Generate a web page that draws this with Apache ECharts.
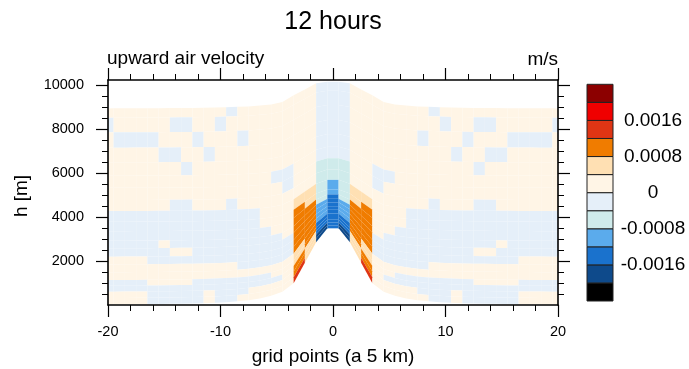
<!DOCTYPE html>
<html><head><meta charset="utf-8">
<script src="https://cdn.jsdelivr.net/npm/echarts@6/dist/echarts.min.js"></script>
<style>html,body{margin:0;padding:0;background:#fff}#c{width:689px;height:369px}</style>
</head><body><div id="c"></div>
<script>
// ---- data ----
const xCenters = [-20,-19,-18,-17,-16,-15,-14,-13,-12,-11,-10,-9,-8,-7,-6,-5,-4,-3,-2,-1,0,1,2,3,4,5,6,7,8,9,10,11,12,13,14,15,16,17,18,19,20];
// terrain height [m] at the cell edges x = -20.5 ... 20.5
const terrainEdges = [0,1,3,6,11,17,24,32,42,55,72,98,135,190,270,390,570,960,1890,2820,3456,
                      3456,2820,1890,960,570,390,270,190,135,98,72,55,42,32,24,17,11,6,3,1,0];
// smoothed terrain felt by the upper levels [m] at the same edges
const smoothTerrainEdges = [0,3,8,14,21,29,38,48,65,85,110,150,200,260,370,520,830,1700,2460,3260,3456,
                            3456,3260,2460,1700,830,520,370,260,200,150,110,85,65,48,38,29,21,14,8,3,0];
// model level interfaces far from the mountain [m] and their terrain-following factor
const levelHeights = [30,320,606,875,1136,1490,1845,2197,2576,2924,3356,3788,4273,4773,5326,5879,6485,7152,7848,8515,8939];
const levelDecay   = [1.0,0.955,0.911,0.869,0.829,0.774,0.719,0.664,0.605,0.551,0.484,0.425,0.41,0.40,0.39,0.38,0.372,0.365,0.36,0.355,0.35];
// upward air velocity, units of 1e-4 m/s, rows listed from top level (19) down to level 0
const wScale = 1e-4;
const wRowsTopDown = [
 [2,2,2,2,2,2,2,2,2,2,2,-2,2,2,2,2,2,2,2,-2, -2, -2,2,2,2,2,2,2,2,-2,2,2,2,2,2,2,2,2,2,2,2],
 [-2,2,2,2,2,2,-2,-2,2,2,-2,2,2,2,2,2,2,2,2,-2, -2, -2,2,2,2,2,2,2,2,2,-2,2,2,-2,-2,2,2,2,2,2,-2],
 [2,-2,-2,-2,-2,2,2,2,-2,2,2,2,-2,2,2,2,2,2,2,-2, -2, -2,2,2,2,2,2,2,-2,2,2,2,-2,2,2,2,-2,-2,-2,-2,2],
 [2,2,2,2,2,-2,-2,2,2,-2,2,2,2,2,2,2,2,2,2,-2, -2, -2,2,2,2,2,2,2,2,2,2,-2,2,2,-2,-2,2,2,2,2,2],
 [2,2,2,2,2,2,2,-2,2,2,2,2,2,2,2,2,2,2,2,-2, -2, -2,2,2,2,2,2,2,2,2,2,2,2,-2,2,2,2,2,2,2,2],
 [2,2,2,2,2,2,2,2,2,2,2,2,2,2,2,-2,-2,2,2,-2, -2, -2,2,2,-2,-2,2,2,2,2,2,2,2,2,2,2,2,2,2,2,2],
 [2,2,2,2,2,2,2,2,2,2,2,2,2,2,2,2,-2,2,2,-6, -6, -6,2,2,-2,2,2,2,2,2,2,2,2,2,2,2,2,2,2,2,2],
 [2,2,2,2,2,2,-2,-2,2,2,2,-2,2,2,2,2,2,2,2,-6, -6, -6,2,2,2,2,2,2,2,-2,2,2,2,-2,-2,2,2,2,2,2,2],
 [-2,-2,-2,-2,-2,-2,-2,-2,-2,-2,-2,-2,-2,-2,2,2,2,6,6,-6, -10, -6,6,6,2,2,2,-2,-2,-2,-2,-2,-2,-2,-2,-2,-2,-2,-2,-2,-2],
 [-2,-2,-2,-2,-2,-2,-2,-2,-2,-2,-2,-2,-2,-2,2,2,2,10,6,-6, -10, -6,6,10,2,2,2,-2,-2,-2,-2,-2,-2,-2,-2,-2,-2,-2,-2,-2,-2],
 [-2,-2,-2,-2,-2,-2,-2,-2,-2,-2,-2,-2,-2,-2,-2,2,2,10,10,-6, -14, -6,10,10,2,2,-2,-2,-2,-2,-2,-2,-2,-2,-2,-2,-2,-2,-2,-2,-2],
 [-2,-2,-2,-2,-2,2,-2,-2,-2,-2,-2,-2,-2,-2,-2,-2,2,10,10,-10, -14, -10,10,10,2,-2,-2,-2,-2,-2,-2,-2,-2,-2,-2,2,-2,-2,-2,-2,-2],
 [-2,-2,-2,-2,-2,-2,2,2,-2,-2,-2,-2,-2,-2,-2,-2,-2,10,10,-10, -14, -10,10,10,-2,-2,-2,-2,-2,-2,-2,-2,-2,2,2,-2,-2,-2,-2,-2,-2],
 [2,2,2,2,-2,-2,-2,-2,-2,-2,-2,-2,-2,-2,-2,-2,-2,10,10,-10, -14, -10,10,10,-2,-2,-2,-2,-2,-2,-2,-2,-2,-2,-2,-2,-2,2,2,2,2],
 [2,2,2,2,2,2,2,2,2,2,2,2,-2,-2,-2,-2,-2,10,10,-10, -14, -10,10,10,-2,-2,-2,-2,-2,2,2,2,2,2,2,2,2,2,2,2,2],
 [2,2,2,2,2,2,2,2,2,2,2,2,2,2,2,2,2,6,10,-14, -14, -14,10,6,2,2,2,2,2,2,2,2,2,2,2,2,2,2,2,2,2],
 [-2,-2,-2,-2,2,2,2,2,-2,-2,-2,-2,-2,-2,-2,2,2,6,10,-14, -14, -14,10,6,2,2,-2,-2,-2,-2,-2,-2,-2,2,2,2,2,-2,-2,-2,-2],
 [-2,-2,-2,-2,-2,-2,-2,-2,-2,-2,-2,-2,-2,-2,-2,-2,2,10,6,-14, -14, -14,6,10,2,-2,-2,-2,-2,-2,-2,-2,-2,-2,-2,-2,-2,-2,-2,-2,-2],
 [2,2,2,2,-2,-2,-2,-2,-2,2,-2,-2,-2,2,2,2,2,10,6,-18, -14, -18,6,10,2,2,2,2,-2,-2,-2,2,-2,-2,-2,-2,-2,2,2,2,2],
 [2,2,2,2,-2,-2,-2,-2,-2,2,-2,-2,2,2,2,2,2,14,6,-18, -14, -18,6,14,2,2,2,2,2,-2,-2,2,-2,-2,-2,-2,-2,2,2,2,2]
];
// contour levels [m/s] and fill colours (bottom to top of the colour bar)
const levels = [-0.0024,-0.002,-0.0016,-0.0012,-0.0008,-0.0004,0,0.0004,0.0008,0.0012,0.0016,0.002,0.0024];
const colors = ['#000000','#0E4A8B','#1A72CD','#5BABEC','#CFEBEB','#E5EFF9','#FFF5E6','#FFE0B3','#F07C00','#DF3514','#F00000','#8C0000'];
const cbLabels = [-0.0016,-0.0008,0,0.0008,0.0016];
const yTicks = [2000,4000,6000,8000,10000];
const yMinor = [500,1000,1500,2500,3000,3500,4500,5000,5500,6500,7000,7500,8500,9000,9500];
const yMax = 10230;

// ---- build ----
const nRows = wRowsTopDown.length;
const zBot = levelHeights[0], zTop = levelHeights[levelHeights.length-1];
function hAt(e, k){
  const w = (levelHeights[k]-zBot)/(zTop-zBot);
  const T = (1-w)*terrainEdges[e] + w*smoothTerrainEdges[e];
  return levelHeights[k] + T*levelDecay[k];
}
function classOf(v){ for (let i = levels.length-2; i >= 0; i--) if (v >= levels[i]) return i; return 0; }
const fieldData = [];
for (let i = 0; i < nRows; i++) {
  const r = nRows - 1 - i;
  const row = wRowsTopDown[i];
  for (let c = 0; c < xCenters.length; c++) {
    fieldData.push([xCenters[c], levelHeights[r], c, r, row[c]*wScale]);
  }
}
const cbData = colors.map((col, i) => [0.5, (levels[i]+levels[i+1])/2, i]);

const FONT = 'Liberation Sans, Arial, Helvetica, sans-serif';
const axLine = {show:true, onZero:false, lineStyle:{color:'#000', width:1.6}};
const noLine = {show:false, onZero:false};
const majTick = {show:true, length:12, lineStyle:{color:'#000', width:1.2}};
const minTick = {show:true, length:6, lineStyle:{color:'#000', width:1}};
const lab = {color:'#000', fontSize:14.5, fontFamily:FONT};

const chart = echarts.init(document.getElementById('c'), null, {renderer:'canvas', width:689, height:369});
chart.setOption({
  animation:false,
  backgroundColor:'#fff',
  grid:[
    {left:108, top:80, width:450, height:225, containLabel:false, outerBoundsMode:'none'},
    {left:587, top:84.3, width:26, height:216.7, containLabel:false, outerBoundsMode:'none'}
  ],
  xAxis:[
    {gridIndex:0, type:'value', min:-20, max:20, interval:10, position:'bottom', z:10,
     axisLine:axLine, axisTick:majTick,
     minorTick:Object.assign({splitNumber:5}, minTick),
     axisLabel:Object.assign({margin:19, formatter:v=>String(v)}, lab),
     splitLine:{show:false}, minorSplitLine:{show:false}},
    {gridIndex:0, type:'value', min:-20, max:20, interval:10, position:'top', z:10,
     axisLine:axLine, axisTick:majTick,
     minorTick:Object.assign({splitNumber:5}, minTick),
     axisLabel:{show:false}, splitLine:{show:false}, minorSplitLine:{show:false}},
    {gridIndex:1, type:'value', min:0, max:1, show:false, axisLine:noLine}
  ],
  yAxis:[
    {gridIndex:0, type:'value', min:0, max:yMax, position:'left', z:10,
     axisLine:axLine, axisTick:Object.assign({customValues:yTicks}, majTick),
     axisLabel:Object.assign({customValues:yTicks, margin:24, formatter:v=>String(v)}, lab),
     splitLine:{show:false}},
    {gridIndex:0, type:'value', min:0, max:yMax, position:'left', z:10,
     axisLine:noLine, axisTick:Object.assign({customValues:yMinor}, minTick),
     axisLabel:{show:false}, splitLine:{show:false}},
    {gridIndex:0, type:'value', min:0, max:yMax, position:'right', z:10,
     axisLine:axLine, axisTick:Object.assign({customValues:yTicks}, majTick),
     axisLabel:{show:false}, splitLine:{show:false}},
    {gridIndex:0, type:'value', min:0, max:yMax, position:'right', z:10,
     axisLine:noLine, axisTick:Object.assign({customValues:yMinor}, minTick),
     axisLabel:{show:false}, splitLine:{show:false}},
    {gridIndex:1, type:'value', min:levels[0], max:levels[levels.length-1], position:'right',
     axisLine:noLine, axisTick:{show:false}, splitLine:{show:false},
     axisLabel:{customValues:cbLabels, margin:40, align:'center', color:'#000', fontSize:19, fontFamily:FONT,
                formatter:v=> v === 0 ? '0' : v.toFixed(4)}}
  ],
  series:[
    {type:'custom', xAxisIndex:0, yAxisIndex:0, clip:true, silent:true, data:fieldData,
     renderItem:function(params, api){
       const c = api.value(2), r = api.value(3), v = api.value(4);
       const xl = xCenters[c]-0.5, xr = xCenters[c]+0.5;
       const pts = [api.coord([xl, hAt(c, r)]), api.coord([xr, hAt(c+1, r)]),
                    api.coord([xr, hAt(c+1, r+1)]), api.coord([xl, hAt(c, r+1)])];
       return {type:'polygon', shape:{points:pts}, style:{fill:colors[classOf(v)]}};
     }},
    {type:'custom', xAxisIndex:2, yAxisIndex:4, silent:true, data:cbData,
     renderItem:function(params, api){
       const i = api.value(2);
       const p1 = api.coord([0, levels[i+1]]), p0 = api.coord([1, levels[i]]);
       return {type:'rect', shape:{x:p1[0], y:p1[1], width:p0[0]-p1[0], height:p0[1]-p1[1]},
               style:{fill:colors[i], stroke:'#222', lineWidth:1}};
     }}
  ],
  graphic:[
    {type:'text', x:333, y:22, style:{text:'12 hours', fontSize:25, fontFamily:FONT, fill:'#000', textAlign:'center', textVerticalAlign:'middle'}},
    {type:'text', x:107, y:58.7, style:{text:'upward air velocity', fontSize:19, fontFamily:FONT, fill:'#000', textAlign:'left', textVerticalAlign:'middle'}},
    {type:'text', x:558, y:60, style:{text:'m/s', fontSize:19, fontFamily:FONT, fill:'#000', textAlign:'right', textVerticalAlign:'middle'}},
    {type:'text', x:333, y:356.7, style:{text:'grid points (a 5 km)', fontSize:19, fontFamily:FONT, fill:'#000', textAlign:'center', textVerticalAlign:'middle'}},
    {type:'text', x:22, y:196, rotation:Math.PI/2, style:{text:'h [m]', fontSize:19, fontFamily:FONT, fill:'#000', textAlign:'center', textVerticalAlign:'middle'}}
  ]
});
</script>
</body></html>
